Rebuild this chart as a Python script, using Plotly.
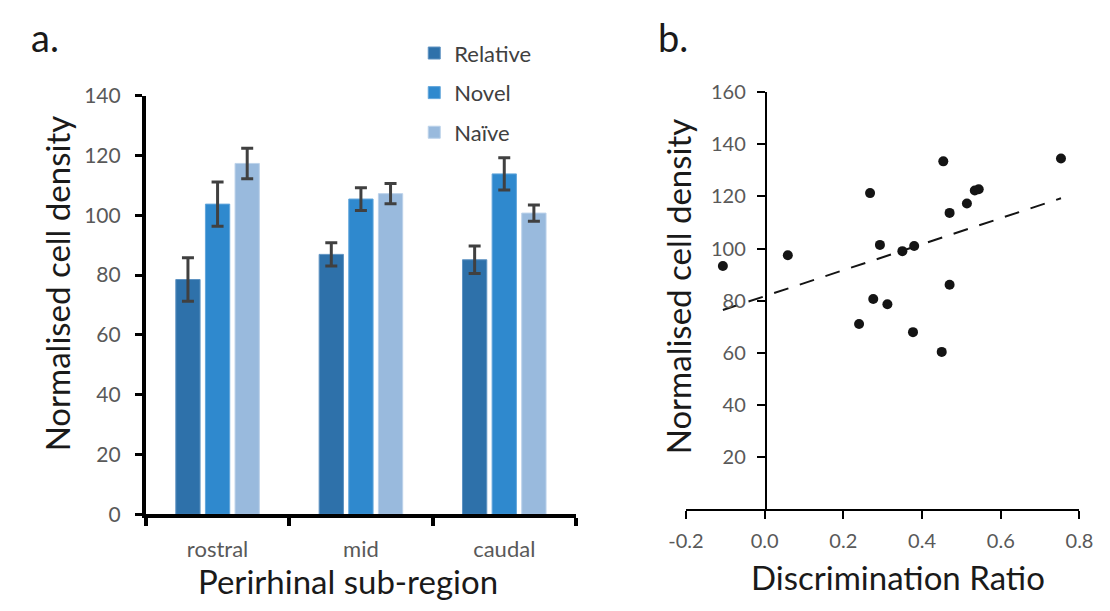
import plotly.graph_objects as go
import numpy as np

W, H = 1110, 611


def px(x):
    return x / W


def py(y):
    return 1 - y / H


# ---- Panel a data ----
regions = ["rostral", "mid", "caudal"]
relative = [78.5, 86.9, 85.1]
relative_err = [7.3, 3.9, 4.6]
novel = [103.7, 105.4, 113.8]
novel_err = [7.4, 3.8, 5.4]
naive = [117.3, 107.2, 100.7]
naive_err = [5.1, 3.4, 2.7]
bar_ticks = [0, 20, 40, 60, 80, 100, 120, 140]

# ---- Panel b data ----
disc_ratio = [-0.106, 0.059, 0.240, 0.268, 0.276, 0.293, 0.312, 0.350, 0.377,
              0.380, 0.450, 0.454, 0.470, 0.470, 0.514, 0.534, 0.544, 0.753]
cell_density = [93.3, 97.4, 71.0, 121.3, 80.6, 101.4, 78.6, 99.0, 67.9,
                101.0, 60.3, 133.5, 113.7, 86.1, 117.3, 122.3, 122.8, 134.6]
scatter_xticks = [-0.2, 0.0, 0.2, 0.4, 0.6, 0.8]
scatter_xticklabels = ["-0.2", "0.0", "0.2", "0.4", "0.6", "0.8"]
scatter_yticks = [20, 40, 60, 80, 100, 120, 140, 160]

FONT = "Lato"
TICK_COLOR = "#595959"

series = [
    ("Relative", relative, relative_err, "#2E71AA", "#5F93C2"),
    ("Novel", novel, novel_err, "#2F89CE", "#62A6DB"),
    ("Naïve", naive, naive_err, "#99BADD", "#BCD2EA"),
]

fig = go.Figure()
for name, vals, errs, col, edge in series:
    fig.add_trace(go.Bar(
        x=regions, y=vals, name=name, legendgroup=name,
        marker=dict(color=col, line=dict(color=edge, width=1)),
        error_y=dict(type="data", array=errs, visible=True,
                     color="#404040", thickness=3, width=6),
        xaxis="x", yaxis="y",
    ))

# scatter points
fig.add_trace(go.Scatter(
    x=disc_ratio, y=cell_density, mode="markers", showlegend=False,
    marker=dict(color="#141414", size=10),
    xaxis="x2", yaxis="y2",
))

# linear trend line (least squares fit of the points)
slope, intercept = np.polyfit(disc_ratio, cell_density, 1)
tx = np.array([min(disc_ratio), max(disc_ratio)])
fig.add_trace(go.Scatter(
    x=tx, y=slope * tx + intercept, mode="lines", showlegend=False,
    line=dict(color="#141414", width=2, dash="15px,12px"),
    xaxis="x2", yaxis="y2",
))

fig.update_layout(
    width=W, height=H,
    margin=dict(l=0, r=0, t=0, b=0),
    paper_bgcolor="white", plot_bgcolor="white",
    font=dict(family=FONT, color=TICK_COLOR),
    barmode="group", bargap=0.38, bargroupgap=0.18,
    showlegend=True,
    legend=dict(
        x=px(408), y=py(19), xanchor="left", yanchor="top",
        traceorder="grouped", tracegroupgap=8,
        font=dict(family=FONT, size=22, color="#404040"),
        bgcolor="rgba(0,0,0,0)",
    ),
    xaxis=dict(
        domain=[px(131.7), px(574.5)], anchor="y",
        showline=True, linecolor="black", linewidth=4,
        ticks="outside", tickson="boundaries", ticklen=8, tickwidth=4,
        tickcolor="black", showgrid=False, zeroline=False,
        tickfont=dict(family=FONT, size=22, color=TICK_COLOR),
        ticklabelstandoff=12,
    ),
    yaxis=dict(
        domain=[py(521.7), py(85)], anchor="x", range=[0, 140],
        tickvals=bar_ticks,
        showline=True, linecolor="black", linewidth=4,
        ticks="outside", ticklen=7, tickwidth=2.5, tickcolor="black",
        showgrid=False, zeroline=False,
        tickfont=dict(family=FONT, size=21, color=TICK_COLOR),
        ticklabelstandoff=10,
    ),
    xaxis2=dict(
        domain=[px(687.7), px(1093)], anchor="y2", range=[-0.2, 0.8],
        tickvals=scatter_xticks, ticktext=scatter_xticklabels,
        showline=True, linecolor="black", linewidth=2,
        ticks="outside", ticklen=8, tickwidth=2, tickcolor="black",
        showgrid=False, zeroline=False,
        tickfont=dict(family=FONT, size=20, color=TICK_COLOR),
        ticklabelstandoff=5,
    ),
    yaxis2=dict(
        domain=[py(516), py(81.7)], anchor="free", position=px(770),
        range=[0, 160], tickvals=scatter_yticks,
        showline=True, linecolor="black", linewidth=2,
        ticks="outside", ticklen=8, tickwidth=2, tickcolor="black",
        showgrid=False, zeroline=False,
        tickfont=dict(family=FONT, size=20, color=TICK_COLOR),
        ticklabelstandoff=7,
    ),
)

title_font = dict(family=FONT, size=33, color="#1a1a1a")
annotations = [
    dict(text="a.", x=px(11), y=py(24), xanchor="left", yanchor="middle",
         font=dict(family=FONT, size=38, color="#1a1a1a")),
    dict(text="b.", x=px(657), y=py(24), xanchor="left", yanchor="middle",
         font=dict(family=FONT, size=38, color="#1a1a1a")),
    dict(text="Normalised cell density", x=px(40), y=py(281), textangle=-90,
         xanchor="center", yanchor="middle", font=title_font),
    dict(text="Perirhinal sub-region", x=px(339.6), y=py(591),
         xanchor="center", yanchor="middle", font=title_font),
    dict(text="Normalised cell density", x=px(680), y=py(283.5), textangle=-90,
         xanchor="center", yanchor="middle", font=title_font),
    dict(text="Discrimination Ratio", x=px(906.5), y=py(587),
         xanchor="center", yanchor="middle", font=title_font),
]
for a in annotations:
    a.update(xref="paper", yref="paper", showarrow=False)
fig.update_layout(annotations=annotations)

fig.write_html(
    "out.html",
    config={"displayModeBar": False},
    post_script="document.body.style.margin='0';document.body.style.padding='0';",
)
